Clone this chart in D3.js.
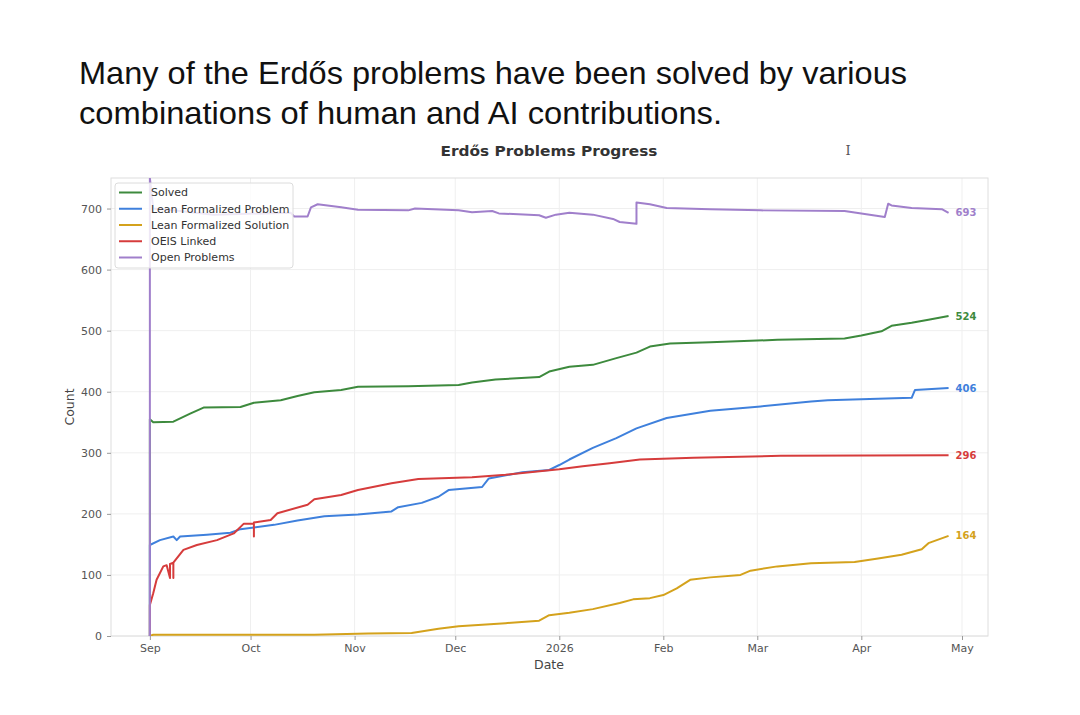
<!DOCTYPE html>
<html>
<head>
<meta charset="utf-8">
<script src="https://cdn.jsdelivr.net/npm/d3@7"></script>
<style>
  html, body { margin: 0; padding: 0; background: #fff; }
  svg { display: block; }
  .tick text { font-family: "DejaVu Sans", sans-serif; font-size: 11px; fill: #555; }
</style>
</head>
<body>
<div id="chart"></div>
<script>
// Series: [date, count]
const solved = [
  ["2025-09-01", 0], ["2025-09-01", 355], ["2025-09-02", 350], ["2025-09-08", 351], ["2025-09-13", 364],
  ["2025-09-17", 374], ["2025-09-28", 375], ["2025-10-02", 382], ["2025-10-10", 386], ["2025-10-15", 393],
  ["2025-10-20", 399], ["2025-10-28", 403], ["2025-11-02", 408], ["2025-11-17", 409], ["2025-12-02", 411],
  ["2025-12-06", 415], ["2025-12-13", 420], ["2025-12-26", 424], ["2025-12-29", 433], ["2026-01-04", 441],
  ["2026-01-11", 444], ["2026-01-18", 455], ["2026-01-24", 464], ["2026-01-28", 474], ["2026-02-03", 479],
  ["2026-02-15", 481], ["2026-03-07", 485], ["2026-03-27", 487], ["2026-04-01", 492], ["2026-04-07", 499],
  ["2026-04-10", 508], ["2026-04-16", 513], ["2026-04-21", 518], ["2026-04-27", 524]
];

const leanProblem = [
  ["2025-09-01", 0], ["2025-09-01", 149], ["2025-09-04", 157], ["2025-09-08", 163], ["2025-09-09", 157],
  ["2025-09-10", 163], ["2025-09-18", 166], ["2025-09-25", 169], ["2025-09-28", 175], ["2025-10-08", 182],
  ["2025-10-15", 189], ["2025-10-23", 196], ["2025-11-02", 199], ["2025-11-12", 204], ["2025-11-14", 211],
  ["2025-11-21", 218], ["2025-11-26", 228], ["2025-11-29", 239], ["2025-12-09", 244], ["2025-12-11", 258],
  ["2025-12-21", 268], ["2025-12-29", 272], ["2026-01-01", 280], ["2026-01-04", 289], ["2026-01-11", 308],
  ["2026-01-18", 324], ["2026-01-24", 340], ["2026-02-02", 357], ["2026-02-15", 369], ["2026-03-02", 376],
  ["2026-03-17", 384], ["2026-03-22", 386], ["2026-04-16", 390], ["2026-04-17", 403], ["2026-04-27", 406]
];

const leanSolution = [
  ["2025-09-01", 0], ["2025-09-02", 2], ["2025-10-20", 2], ["2025-11-05", 4], ["2025-11-18", 5],
  ["2025-11-26", 12], ["2025-12-02", 16], ["2025-12-16", 21], ["2025-12-26", 25], ["2025-12-29", 34],
  ["2026-01-04", 38], ["2026-01-11", 44], ["2026-01-19", 54], ["2026-01-23", 60], ["2026-01-28", 62],
  ["2026-02-01", 67], ["2026-02-05", 78], ["2026-02-09", 92], ["2026-02-15", 96], ["2026-02-24", 100],
  ["2026-02-27", 107], ["2026-03-07", 114], ["2026-03-17", 119], ["2026-03-30", 121], ["2026-04-06", 127],
  ["2026-04-13", 133], ["2026-04-19", 142], ["2026-04-21", 152], ["2026-04-27", 164]
];

const oeisLinked = [
  ["2025-09-01", 0], ["2025-09-01", 51], ["2025-09-02", 70], ["2025-09-03", 92], ["2025-09-05", 114],
  ["2025-09-06", 116], ["2025-09-07", 95], ["2025-09-07", 118], ["2025-09-08", 120], ["2025-09-08", 95],
  ["2025-09-08", 120], ["2025-09-11", 141], ["2025-09-15", 149], ["2025-09-21", 157], ["2025-09-26", 168],
  ["2025-09-29", 184], ["2025-10-02", 184], ["2025-10-02", 163], ["2025-10-02", 186], ["2025-10-07", 190],
  ["2025-10-09", 201], ["2025-10-18", 215], ["2025-10-20", 224], ["2025-10-28", 231], ["2025-11-02", 239],
  ["2025-11-12", 250], ["2025-11-20", 257], ["2025-12-06", 260], ["2025-12-16", 264], ["2026-01-01", 273],
  ["2026-01-08", 278], ["2026-01-16", 283], ["2026-01-25", 289], ["2026-02-10", 292], ["2026-03-08", 295],
  ["2026-04-27", 296]
];

const openProblems = [
  ["2025-09-01", 0], ["2025-09-01", 750], ["2025-09-02", 700], ["2025-09-10", 696], ["2025-09-20", 690],
  ["2025-10-05", 692], ["2025-10-13", 693], ["2025-10-14", 687], ["2025-10-18", 687], ["2025-10-19", 702],
  ["2025-10-21", 707], ["2025-10-28", 702], ["2025-11-02", 698], ["2025-11-17", 697], ["2025-11-19", 700],
  ["2025-12-02", 697], ["2025-12-06", 694], ["2025-12-12", 696], ["2025-12-14", 692], ["2025-12-26", 689],
  ["2025-12-28", 685], ["2025-12-31", 690], ["2026-01-04", 693], ["2026-01-11", 690], ["2026-01-17", 683],
  ["2026-01-19", 678], ["2026-01-24", 675], ["2026-01-24", 710], ["2026-01-28", 707], ["2026-02-02", 701],
  ["2026-02-15", 699], ["2026-03-02", 697], ["2026-03-27", 696], ["2026-04-01", 692], ["2026-04-08", 686],
  ["2026-04-09", 708], ["2026-04-10", 705], ["2026-04-16", 701], ["2026-04-25", 699], ["2026-04-27", 693]
];

const seriesNames = ["Solved", "Lean Formalized Problem", "Lean Formalized Solution", "OEIS Linked", "Open Problems"];
const seriesColors = ["#3d8a3d", "#3f80dc", "#d4a21c", "#d63c3c", "#a07fcb"];
const yTicks = [0, 100, 200, 300, 400, 500, 600, 700];

const width = 1080;
const height = 715;
const plot = { left: 111, right: 988, top: 178, bottom: 636 };

const parseDate = d3.timeParse("%Y-%m-%d");
const allSeries = [solved, leanProblem, leanSolution, oeisLinked, openProblems]
  .map((pts, i) => ({
    name: seriesNames[i],
    color: seriesColors[i],
    points: pts.map(p => ({ date: parseDate(p[0]), value: p[1] }))
  }));

const svg = d3.select("#chart").append("svg")
  .attr("width", width)
  .attr("height", height);

// Slide heading
const heading = ["Many of the Erdős problems have been solved by various",
                 "combinations of human and AI contributions."];
const headingWidths = [828, 643];
heading.forEach((line, i) => {
  svg.append("text")
    .attr("x", 79)
    .attr("y", 83.5 + i * 40)
    .attr("font-family", "'Liberation Sans', Arial, sans-serif")
    .attr("font-size", 32)
    .attr("fill", "#111")
    .attr("textLength", headingWidths[i])
    .attr("lengthAdjust", "spacingAndGlyphs")
    .text(line);
});

// Scales (matplotlib-like margins around Sep 1 .. Apr 27)
const x = d3.scaleTime()
  .domain([new Date(2025, 7, 20, 10), new Date(2026, 4, 8, 18)])
  .range([plot.left, plot.right]);
const y = d3.scaleLinear()
  .domain([0, 750])
  .range([plot.bottom, plot.top]);

const monthTicks = d3.timeMonth.range(new Date(2025, 8, 1), new Date(2026, 4, 2));
const fmtTick = d => d.getMonth() === 0 ? d3.timeFormat("%Y")(d) : d3.timeFormat("%b")(d);

// grid
const grid = svg.append("g").attr("stroke", "#efefef").attr("stroke-width", 1);
monthTicks.forEach(d => {
  grid.append("line")
    .attr("x1", x(d)).attr("x2", x(d))
    .attr("y1", plot.top).attr("y2", plot.bottom);
});
yTicks.forEach(v => {
  grid.append("line")
    .attr("x1", plot.left).attr("x2", plot.right)
    .attr("y1", y(v)).attr("y2", y(v));
});

// frame
svg.append("rect")
  .attr("x", plot.left).attr("y", plot.top)
  .attr("width", plot.right - plot.left)
  .attr("height", plot.bottom - plot.top)
  .attr("fill", "none")
  .attr("stroke", "#dedede");

// axes
const xAxis = svg.append("g")
  .attr("transform", `translate(0,${plot.bottom})`)
  .call(d3.axisBottom(x).tickValues(monthTicks).tickFormat(fmtTick).tickSize(4).tickPadding(4));
const yAxis = svg.append("g")
  .attr("transform", `translate(${plot.left},0)`)
  .call(d3.axisLeft(y).tickValues(yTicks).tickSize(4).tickPadding(5));
[xAxis, yAxis].forEach(a => {
  a.select(".domain").remove();
  a.selectAll(".tick line").attr("stroke", "#999");
});

svg.append("text")
  .attr("x", 549).attr("y", 669)
  .attr("text-anchor", "middle")
  .attr("font-family", "'DejaVu Sans', sans-serif")
  .attr("font-size", 12.5)
  .attr("fill", "#444")
  .text("Date");

svg.append("text")
  .attr("transform", `translate(74,${(plot.top + plot.bottom) / 2}) rotate(-90)`)
  .attr("text-anchor", "middle")
  .attr("font-family", "'DejaVu Sans', sans-serif")
  .attr("font-size", 12.5)
  .attr("fill", "#444")
  .text("Count");

svg.append("text")
  .attr("x", 549).attr("y", 156)
  .attr("text-anchor", "middle")
  .attr("font-family", "'DejaVu Sans', sans-serif")
  .attr("font-weight", "bold")
  .attr("font-size", 14.5)
  .attr("fill", "#333")
  .attr("textLength", 217)
  .attr("lengthAdjust", "spacingAndGlyphs")
  .text("Erdős Problems Progress");

// lines
svg.append("clipPath").attr("id", "clip")
  .append("rect")
  .attr("x", plot.left).attr("y", plot.top)
  .attr("width", plot.right - plot.left)
  .attr("height", plot.bottom - plot.top);

const line = d3.line()
  .x(d => x(d.date))
  .y(d => y(d.value));

const lines = svg.append("g").attr("clip-path", "url(#clip)");
allSeries.forEach(s => {
  lines.append("path")
    .datum(s.points)
    .attr("fill", "none")
    .attr("stroke", s.color)
    .attr("stroke-width", 2)
    .attr("stroke-linejoin", "round")
    .attr("d", line);
});

// end-value labels
allSeries.forEach(s => {
  const last = s.points[s.points.length - 1];
  svg.append("text")
    .attr("x", x(last.date) + 7)
    .attr("y", y(last.value))
    .attr("dy", "0.35em")
    .attr("font-family", "'DejaVu Sans', sans-serif")
    .attr("font-weight", "bold")
    .attr("font-size", 10)
    .attr("fill", s.color)
    .text(last.value);
});

// legend
const legend = svg.append("g").attr("transform", "translate(115,183)");
legend.append("rect")
  .attr("width", 178).attr("height", 85)
  .attr("rx", 3)
  .attr("fill", "#fff")
  .attr("fill-opacity", 0.82)
  .attr("stroke", "#dcdcdc");
allSeries.forEach((s, i) => {
  const row = legend.append("g").attr("transform", `translate(0,${9.5 + i * 16.25})`);
  row.append("line")
    .attr("x1", 4).attr("x2", 27)
    .attr("stroke", s.color)
    .attr("stroke-width", 2);
  row.append("text")
    .attr("x", 36)
    .attr("dy", "0.35em")
    .attr("font-family", "'DejaVu Sans', sans-serif")
    .attr("font-size", 11)
    .attr("fill", "#333")
    .text(s.name);
});

// text cursor left in the screenshot
svg.append("text")
  .attr("x", 848).attr("y", 155)
  .attr("text-anchor", "middle")
  .attr("font-family", "'DejaVu Serif', serif")
  .attr("font-size", 13)
  .attr("fill", "#555")
  .text("I");
</script>
</body>
</html>
